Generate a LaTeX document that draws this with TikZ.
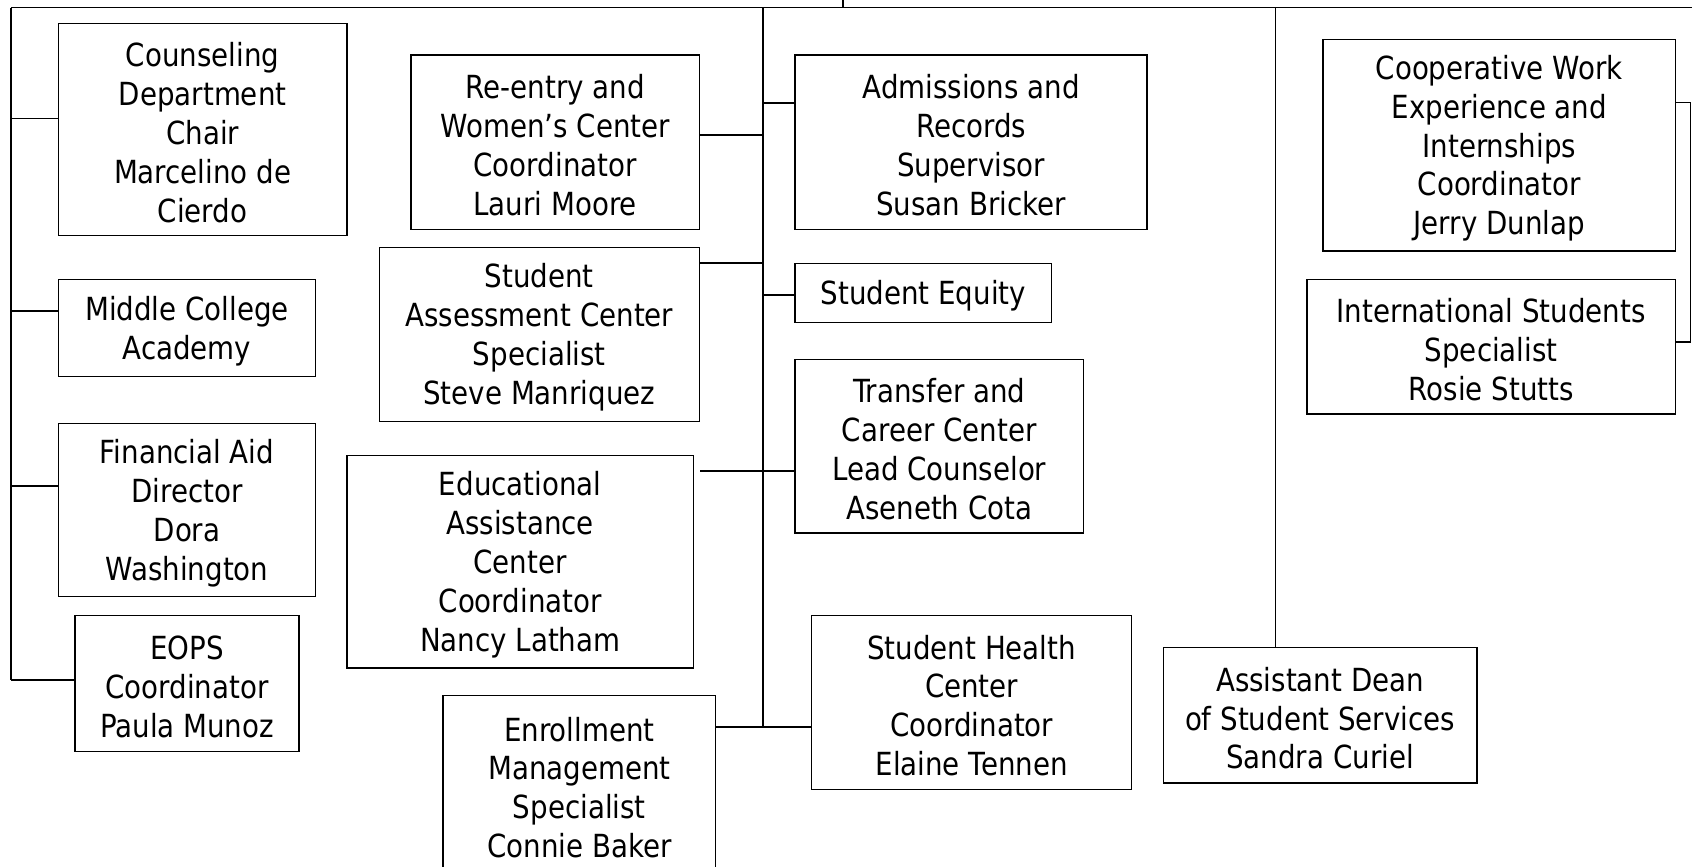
\documentclass[tikz,border=0pt]{standalone}
\usepackage{fontspec}
\setmainfont{DejaVu Sans}[FakeStretch=0.87]
\newcommand\lift{\rule{0pt}{28pt}}
\tikzset{every path/.style={line width=1.6pt}}
\tikzset{post/.style={draw,line width=1.3pt,align=center,inner sep=0pt,
  font=\fontsize{29.5}{36}\selectfont}}

\begin{document}
\begin{tikzpicture}[x=1pt,y=-1pt]
  \useasboundingbox (0,0) rectangle (1568,803);

  \node[post,minimum width=267.6pt,minimum height=196.8pt] (couns) at (187.8,120)
    {\lift Counseling\\Department\\Chair\\Marcelino de\\Cierdo};
  \node[post,minimum width=238.6pt,minimum height=90.2pt] (middle) at (173.3,303.9)
    {\lift Middle College\\Academy};
  \node[post,minimum width=238.6pt,minimum height=160.7pt] (finaid) at (173.3,472.7)
    {\lift Financial Aid\\Director\\Dora\\Washington};
  \node[post,minimum width=207.5pt,minimum height=126.1pt] (eops) at (173.3,633.3)
    {\lift EOPS\\Coordinator\\Paula Munoz};

  \node[post,minimum width=267pt,minimum height=161.5pt] (reentry) at (514.5,131.8)
    {\lift Re-entry and\\Women’s Center\\Coordinator\\Lauri Moore};
  \node[post,minimum width=296.4pt,minimum height=161.2pt] (assess) at (499.8,309.8)
    {\lift Student\\Assessment Center\\Specialist\\Steve Manriquez};
  \node[post,minimum width=321pt,minimum height=197pt] (edu) at (482.1,520.5)
    {\lift Educational\\Assistance\\Center\\Coordinator\\Nancy Latham};
  \node[post,minimum width=252.5pt,minimum height=165.2pt] (enroll) at (536.9,727)
    {\lift Enrollment\\Management\\Specialist\\Connie Baker};

  \node[post,minimum width=326.3pt,minimum height=161.5pt] (admis) at (899.9,131.8)
    {\lift Admissions and\\Records\\Supervisor\\Susan Bricker};
  \node[post,minimum width=237.8pt,minimum height=54.7pt] (equity) at (855.6,271.4)
    {\lift Student Equity};
  \node[post,minimum width=267.3pt,minimum height=161pt] (transfer) at (870.4,413.5)
    {\lift Transfer and\\Career Center\\Lead Counselor\\Aseneth Cota};
  \node[post,minimum width=296.3pt,minimum height=161.6pt] (health) at (900.4,651)
    {\lift Student Health\\Center\\Coordinator\\Elaine Tennen};

  \node[post,minimum width=290.6pt,minimum height=125.7pt] (dean) at (1223.3,662.8)
    {\lift Assistant Dean\\of Student Services\\Sandra Curiel};
  \node[post,minimum width=326.7pt,minimum height=196.1pt] (coop) at (1389.4,134.6)
    {\lift Cooperative Work\\Experience and\\Internships\\Coordinator\\Jerry Dunlap};
  \node[post,minimum width=341.7pt,minimum height=124.9pt] (intl) at (1381.9,321.3)
    {\lift International Students\\Specialist\\Rosie Stutts};

  \coordinate (top) at (781.5,0);
  \coordinate (bus) at (781.5,7);
  \coordinate (bl) at (10,7);
  \coordinate (bm) at (707,7);
  \coordinate (br) at (1182,7);
  \coordinate (be) at (1568,7);

  \draw (top) -- (bus);
  \draw (bl) -- (be);

  \draw (bl) -- (10,629.9);
  \foreach \n/\y in {couns/109.7,middle/288.2,finaid/450.7,eops/629.9}
    \draw (10,\y) -- (\n.west |- 0,\y);

  \draw (bm) -- (707,674);
  \foreach \n/\y in {reentry/125,assess/243.4}
    \draw (\n.east |- 0,\y) -- (707,\y);
  \foreach \n/\y in {admis/95.7,equity/273.4}
    \draw (707,\y) -- (\n.west |- 0,\y);
  \draw (edu.east |- 0,436.8) ++(5.5,0) -- (transfer.west |- 0,436.8);
  \draw (enroll.east |- 0,674) -- (health.west |- 0,674);

  \draw (br) -- (dean.north -| br);

  \draw (coop.east |- 0,95.1) -- (1566.5,95.1) -- (1566.5,316.6) -- (intl.east |- 0,316.6);
\end{tikzpicture}
\end{document}
